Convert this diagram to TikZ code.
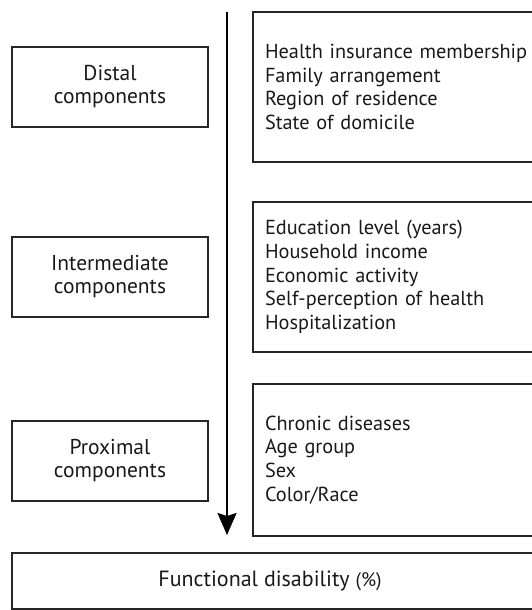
\documentclass[tikz,border=0pt]{standalone}
\usepackage{fontspec}
\setmainfont{PT Sans}
\usetikzlibrary{arrows.meta}
\begin{document}
\begin{tikzpicture}[x=1pt,y=-1pt,
  boxline/.style={draw=black!85, line width=1.1pt},
  leftbox/.style={boxline, minimum width=196pt, minimum height=80pt, inner sep=0pt,
    align=center, font=\fontsize{21.5}{23}\selectfont, text=black!90},
  listbox/.style={boxline, minimum width=327pt, text width=303pt, inner xsep=12pt, inner ysep=0pt,
    align=left, font=\fontsize{20.3}{23.8}\selectfont, text=black!90},
  flowarrow/.style={line width=2pt, -{Stealth[inset=3pt,width=19pt,length=22pt]}},
  ]
\useasboundingbox (0,0) rectangle (532,610);
\clip (0,0) rectangle (532,610);

\node[leftbox] (distal) at (110,87) {Distal\\components};
\node[leftbox] (inter) at (110,277) {Intermediate\\components};
\node[leftbox] (prox) at (110,461) {Proximal\\components};

\node[listbox, minimum height=150pt] (distlist) at (416.5,87)
  {Health insurance membership\\Family arrangement\\Region of residence\\State of domicile};
\node[listbox, minimum height=150pt] (interlist) at (416.5,277)
  {Education level (years)\\Household income\\Economic activity\\Self-perception of health\\Hospitalization};
\node[listbox, minimum height=152pt] (proxlist) at (416.5,460)
  {Chronic diseases\\Age group\\Sex\\Color/Race};

\node[boxline, minimum width=533pt, minimum height=56pt, inner sep=0pt] (outcome) at (278.5,581) {};
\node[font=\fontsize{22}{24}\selectfont, text=black!90, inner sep=0pt] (outcometext) at (270,581)
  {Functional disability {\fontsize{19.5}{22}\selectfont(\%)}};

\coordinate (atop) at (227,12);
\coordinate (abot) at (227,535);
\draw[flowarrow] (atop) -- (abot);
\end{tikzpicture}
\end{document}
